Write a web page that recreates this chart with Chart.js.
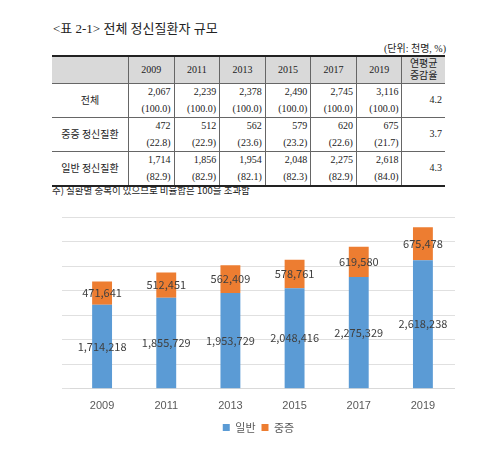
<!DOCTYPE html>
<html><head><meta charset="utf-8">
<script src="https://cdn.jsdelivr.net/npm/chart.js@4/dist/chart.umd.min.js"></script>
<style>
body{margin:0;background:#fff;width:500px;height:455px;position:relative;overflow:hidden;font-family:"Liberation Serif","Noto Sans CJK KR",serif;color:#222}
#title{position:absolute;left:53px;top:18px;font-size:13px}
#unit{position:absolute;left:370px;top:40px;font-size:10px;width:76px;text-align:right}
table{position:absolute;left:52px;top:55px;width:393px;border-collapse:collapse;font-size:10px;border-top:2px solid #222;border-bottom:2px solid #222}
td,th{border-left:1px solid #666;border-bottom:1px solid #666;padding:0 3px;line-height:16.5px}
th{background:#d9d9d9;font-weight:normal;height:26px;text-align:center}
td.n{text-align:right}
td.l{text-align:center;border-left:none;font-family:"Noto Sans CJK KR";width:70px}
th:first-child{border-left:none}
#note{position:absolute;left:52px;top:183px;font-size:9.5px;font-family:"Noto Sans CJK KR"}
#box{position:absolute;left:55px;top:205px;width:400px;height:238px}
</style></head><body>
<div id="title">&lt;표 2-1&gt; 전체 정신질환자 규모</div>
<div id="unit">(단위: 천명, %)</div>
<table id="tbl"></table>
<div id="note">주) 질환별 중복이 있으므로 비율합은 100을 초과함</div>
<div id="box"><canvas id="c"></canvas></div>
<script>
var years = ['2009','2011','2013','2015','2017','2019'];
var general = [1714218, 1855729, 1953729, 2048416, 2275329, 2618238];
var severe = [471641, 512451, 562409, 578761, 619580, 675478];
var tblTotal = ['2,067','2,239','2,378','2,490','2,745','3,116'];
var tblSevere = ['472','512','562','579','620','675'];
var tblSevereP = ['22.8','22.9','23.6','23.2','22.6','21.7'];
var tblGeneral = ['1,714','1,856','1,954','2,048','2,275','2,618'];
var tblGeneralP = ['82.9','82.9','82.1','82.3','82.9','84.0'];
var tblTotalP = ['100.0','100.0','100.0','100.0','100.0','100.0'];
var growth = ['4.2','3.7','4.3'];

var h = '<tr><th></th>' + years.map(function(y){return '<th>'+y+'</th>';}).join('') + '<th style="line-height:12px">연평균<br>증감율</th></tr>';
function row(name, v, p, g) {
	return '<tr><td class="l">'+name+'</td>' + v.map(function(x,i){return '<td class="n">'+x+'<br>('+p[i]+')</td>';}).join('') + '<td class="n">'+g+'</td></tr>';
}
h += row('전체', tblTotal, tblTotalP, growth[0]);
h += row('중증 정신질환', tblSevere, tblSevereP, growth[1]);
h += row('일반 정신질환', tblGeneral, tblGeneralP, growth[2]);
document.getElementById('tbl').innerHTML = h;

var barLabels = {
	id: 'barLabels',
	afterDatasetsDraw: function(chart) {
		var ctx = chart.ctx;
		ctx.save();
		ctx.font = '11px "Noto Sans CJK KR"';
		ctx.fillStyle = '#404040';
		ctx.textAlign = 'center';
		ctx.textBaseline = 'middle';
		chart.data.datasets.forEach(function(ds, i) {
			chart.getDatasetMeta(i).data.forEach(function(bar, j) {
				ctx.fillText(ds.data[j].toLocaleString('en-US'), bar.x, (bar.y + bar.base) / 2);
			});
		});
		ctx.restore();
	}
};

new Chart(document.getElementById('c'), {
	type: 'bar',
	data: { labels: years, datasets: [
		{ label: '일반', data: general, backgroundColor: '#5b9bd5', barPercentage: 0.31, categoryPercentage: 1 },
		{ label: '중증', data: severe, backgroundColor: '#ed7d31', barPercentage: 0.31, categoryPercentage: 1 }
	]},
	options: {
		responsive: true, maintainAspectRatio: false, animation: false,
		layout: { padding: { left: 7, right: 0, top: 12, bottom: 0 } },
		plugins: {
			legend: { position: 'bottom', labels: { padding: 6, boxWidth: 7, boxHeight: 7, font: { size: 11, family: 'Noto Sans CJK KR' }, color: '#595959' } },
			tooltip: { enabled: false }
		},
		scales: {
			x: { stacked: true, grid: { display: false }, border: { color: '#d9d9d9' }, ticks: { color: '#595959', font: { size: 11 } } },
			y: { stacked: true, min: 0, max: 3500000, ticks: { display: false, stepSize: 500000 }, grid: { color: '#e0e0e0' }, border: { display: false } }
		}
	},
	plugins: [barLabels]
});
</script>
</body></html>
